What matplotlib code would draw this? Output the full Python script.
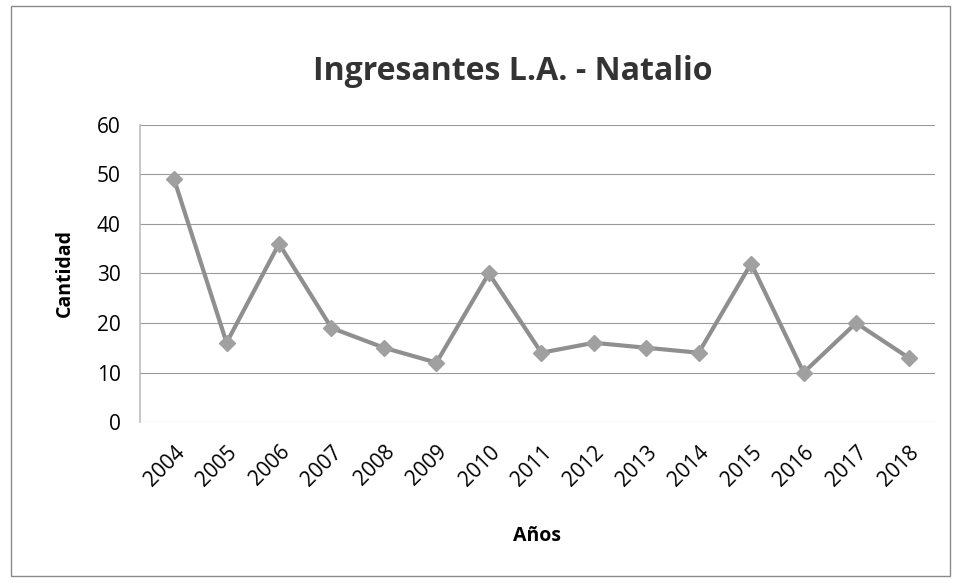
import matplotlib
matplotlib.use("Agg")
import matplotlib.pyplot as plt
from matplotlib.patches import Rectangle

years = ["2004", "2005", "2006", "2007", "2008", "2009", "2010", "2011",
         "2012", "2013", "2014", "2015", "2016", "2017", "2018"]
cantidad = [49, 16, 36, 19, 15, 12, 30, 14, 16, 15, 14, 32, 10, 20, 13]
yticks = [0, 10, 20, 30, 40, 50, 60]

plt.rcParams['font.family'] = ['Open Sans', 'DejaVu Sans']

fig = plt.figure(figsize=(9.61, 5.83), dpi=100)
fig.patches.append(Rectangle((0.011, 0.012), 0.978, 0.978, transform=fig.transFigure,
                             fill=False, edgecolor="#8a8a8a", linewidth=1.0))

ax = fig.add_axes([0.1457, 0.276, 0.827, 0.510])
x = list(range(len(years)))
ax.plot(x, cantidad, color="#8f8f8f", linewidth=3, marker="D", markersize=8,
        markerfacecolor="#a0a0a0", markeredgecolor="#a0a0a0", zorder=3)

ax.set_ylim(0, 60)
ax.set_yticks(yticks)
ax.set_xlim(-0.65, 14.5)
ax.set_xticks(x)
ax.set_xticklabels(years, rotation=45, ha="right", rotation_mode="anchor", fontsize=15)
ax.tick_params(axis="y", labelsize=15, length=0, pad=14)
ax.tick_params(axis="x", length=0, pad=14)
ax.grid(axis="y", color="#9a9a9a", linewidth=0.8)
ax.set_axisbelow(True)
for s in ["top", "right", "bottom"]:
    ax.spines[s].set_visible(False)
ax.spines["left"].set_color("#bdbdbd")
ax.spines["left"].set_linewidth(1.2)

ax.set_ylabel("Cantidad", fontsize=14, fontweight="bold", labelpad=16)
ax.set_xlabel("Años", fontsize=14, fontweight="bold", labelpad=26)
fig.text(0.534, 0.877, "Ingresantes L.A. - Natalio", ha="center", va="center",
         fontsize=23, fontweight="bold", color="#333333")

fig.savefig("out.png", dpi=100)
